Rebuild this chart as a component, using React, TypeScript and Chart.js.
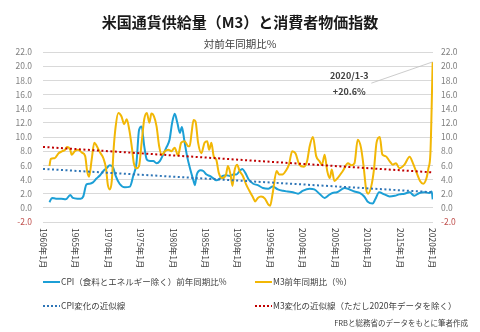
import React, { useEffect, useRef } from "react";
import { Chart, registerables } from "chart.js";

Chart.register(...registerables);

const FONT = '"Noto Sans CJK JP", "Noto Sans", sans-serif';

const TITLE = "米国通貨供給量（M3）と消費者物価指数";
const SUBTITLE = "対前年同期比%";
const SOURCE = "FRBと総務省のデータをもとに筆者作成";
const ANNOT_LINE1 = "2020/1-3";
const ANNOT_LINE2 = "+20.6%";

const cpiLabel = "CPI（食料とエネルギー除く）前年同期比%";
const m3Label = "M3前年同期比（%）";
const cpiTrendLabel = "CPI変化の近似線";
const m3TrendLabel = "M3変化の近似線（ただし2020年データを除く）";

const cpiYears = [
  1961.0, 1961.4, 1962.0, 1962.8, 1963.5, 1964.2, 1964.6, 1965.3, 1965.8, 1966.2,
  1966.7, 1967.2, 1967.7, 1968.2, 1968.8, 1969.3, 1969.8, 1970.3, 1970.8, 1971.2,
  1971.8, 1972.6, 1973.4, 1973.9, 1974.4, 1974.8, 1975.2, 1975.6, 1976.0, 1976.5,
  1977.0, 1977.5, 1978.0, 1978.5, 1979.0, 1979.5, 1979.9, 1980.3, 1980.7, 1981.1,
  1981.4, 1981.8, 1982.2, 1982.7, 1983.2, 1983.4, 1983.7, 1984.3, 1984.7, 1985.2,
  1985.7, 1986.2, 1986.7, 1987.2, 1987.7, 1988.3, 1988.8, 1989.3, 1989.8, 1990.3,
  1990.7, 1991.2, 1991.7, 1992.4, 1993.1, 1993.9, 1994.7, 1995.4, 1996.2, 1997.0,
  1997.7, 1998.5, 1999.3, 2000.0, 2001.1, 2001.8, 2002.6, 2003.4, 2003.9, 2004.6,
  2005.3, 2006.5, 2007.2, 2008.0, 2008.8, 2009.5, 2010.0, 2010.8, 2011.2, 2011.8,
  2012.6, 2013.4, 2014.2, 2014.9, 2015.7, 2016.5, 2017.2, 2018.0, 2018.8, 2019.5,
  2019.9, 2020.05,
];
const cpiValues = [
  0.8, 1.4, 1.3, 1.3, 1.2, 1.8, 1.4, 1.3, 1.3, 1.6,
  3.3, 3.4, 3.6, 4.1, 4.6, 5.2, 5.6, 6.0, 5.7, 4.5,
  3.4, 2.9, 3.0, 4.5, 6.3, 11.0, 11.5, 8.7, 6.8, 6.6,
  6.6, 6.3, 6.6, 7.5, 8.5, 9.6, 12.0, 13.3, 12.0, 10.6,
  11.4, 9.4, 7.3, 5.4, 3.8, 3.2, 4.7, 5.3, 5.2, 4.7,
  4.5, 4.2, 3.9, 4.1, 4.5, 4.6, 4.5, 4.7, 4.7, 5.2,
  5.5, 4.9, 4.0, 3.4, 3.2, 2.8, 2.7, 3.0, 2.6, 2.4,
  2.3, 2.2, 2.0, 2.4, 2.7, 2.6, 2.0, 1.4, 1.7, 2.1,
  2.2, 2.8, 2.6, 2.3, 2.1, 1.6, 0.9, 0.6, 1.2, 2.2,
  1.9, 1.6, 1.7, 1.9, 2.0, 2.2, 1.7, 2.1, 2.2, 2.1,
  2.3, 1.2,
];

const m3Years = [
  1961.0, 1961.2, 1961.8, 1962.4, 1963.0, 1963.4, 1963.7, 1964.2, 1964.4, 1964.9,
  1965.4, 1966.0, 1966.5, 1966.8, 1967.1, 1967.5, 1967.9, 1968.3, 1968.8, 1969.3,
  1969.7, 1970.0, 1970.3, 1970.6, 1970.9, 1971.2, 1971.6, 1972.1, 1972.5, 1972.9,
  1973.3, 1973.7, 1974.0, 1974.4, 1974.8, 1975.2, 1975.6, 1976.0, 1976.4, 1976.7,
  1977.1, 1977.5, 1977.9, 1978.3, 1978.8, 1979.3, 1979.8, 1980.3, 1980.8, 1981.3,
  1981.8, 1982.4, 1982.6, 1982.9, 1983.2, 1983.5, 1983.9, 1984.4, 1984.9, 1985.3,
  1985.6, 1985.95, 1986.3, 1986.7, 1987.1, 1987.6, 1988.2, 1988.5, 1988.9, 1989.2,
  1989.5, 1989.9, 1990.3, 1990.8, 1991.3, 1991.8, 1992.4, 1992.7, 1993.1, 1993.6,
  1994.2, 1994.7, 1995.0, 1995.4, 1996.0, 1996.4, 1996.9, 1997.4, 1997.9, 1998.4,
  1998.9, 1999.5, 2000.2, 2000.7, 2001.1, 2001.6, 2002.1, 2002.6, 2003.0, 2003.4,
  2003.8, 2004.2, 2004.5, 2004.9, 2005.4, 2006.2, 2007.0, 2007.5, 2008.0, 2008.5,
  2009.0, 2009.4, 2009.8, 2010.1, 2010.6, 2011.0, 2011.4, 2011.9, 2012.3, 2012.8,
  2013.4, 2013.9, 2014.4, 2014.9, 2015.7, 2016.5, 2017.0, 2017.6, 2018.1, 2018.6,
  2019.1, 2019.4, 2019.7, 2020.05,
];
const m3Values = [
  5.9, 6.9, 7.0, 7.7, 8.0, 8.2, 8.6, 8.2, 7.5, 8.0,
  8.2, 7.8, 7.3, 5.2, 4.4, 6.8, 9.2, 8.7, 7.8, 7.0,
  5.6, 3.2, 2.6, 3.8, 8.5, 11.5, 13.4, 12.9, 11.8, 12.5,
  11.0, 8.5, 6.3, 5.6, 5.9, 9.2, 12.5, 13.4, 12.0, 13.3,
  12.9, 11.5, 8.7, 7.5, 8.0, 8.2, 8.0, 8.5, 7.4, 9.2,
  9.4, 8.7, 8.7, 10.6, 12.4, 12.2, 9.2, 7.7, 9.2, 9.4,
  8.2, 9.2, 7.3, 6.8, 4.9, 4.2, 4.7, 5.9, 4.7, 3.1,
  5.2, 6.1, 5.2, 4.5, 3.3, 2.4, 1.4, 0.9, 1.4, 1.6,
  1.3, 0.5, 0.3, 2.1, 5.2, 4.7, 4.7, 5.2, 6.1, 8.0,
  7.7, 6.1, 5.8, 6.6, 8.7, 10.0, 7.3, 6.6, 6.1, 7.5,
  5.2, 4.2, 5.4, 3.8, 4.2, 5.2, 6.3, 6.0, 6.3, 9.6,
  8.5, 5.9, 2.6, 2.0, 3.1, 5.4, 9.2, 10.0, 7.5, 7.3,
  6.6, 6.1, 6.3, 5.6, 6.1, 7.2, 6.3, 4.9, 3.8, 3.4,
  4.2, 5.6, 7.7, 20.6,
];

const trendYears = [1960, 2020.1];
const cpiTrendValues = [5.5, 2.2];
const m3TrendValues = [8.6, 5.0];

const xTickYears = [1960, 1965, 1970, 1975, 1980, 1985, 1990, 1995, 2000, 2005, 2010, 2015, 2020];
const xMin = 1960;
const xMax = 2020.1;
const yMin = -2;
const yMax = 22;
const yStep = 2;

// annotation anchor (data coordinates)
const annotYear = 2007.2;
const annotLine1Value = 18.66;
const annotLine2Value = 16.45;
const leaderStart = [2010.6, 17.6];

const CPI_COLOR = "#1c9fd6";
const M3_COLOR = "#f2b705";
const CPI_TREND_COLOR = "#2e75b6";
const M3_TREND_COLOR = "#c00000";

const zip = (xs: number[], ys: number[]) => xs.map((x, i) => ({ x, y: ys[i] }));

const overlayPlugin = {
  id: "overlay",
  afterDraw(chart: any) {
    const ctx = chart.ctx as CanvasRenderingContext2D;
    const xs = chart.scales.x;
    const ys = chart.scales.y;
    const area = chart.chartArea;
    const W = chart.width;
    ctx.save();

    // title
    ctx.fillStyle = "#1a1a1a";
    ctx.font = `bold 15px ${FONT}`;
    ctx.textAlign = "center";
    ctx.textBaseline = "middle";
    ctx.fillText(TITLE, W / 2, 22);

    // subtitle
    ctx.fillStyle = "#404040";
    ctx.font = `10.5px ${FONT}`;
    ctx.fillText(SUBTITLE, W / 2, 44);

    // x tick labels rotated (read top to bottom)
    ctx.fillStyle = "#404040";
    ctx.font = `8.5px ${FONT}`;
    ctx.textAlign = "left";
    ctx.textBaseline = "middle";
    for (const yr of xTickYears) {
      const px = xs.getPixelForValue(yr);
      ctx.save();
      ctx.translate(px, area.bottom + 6);
      ctx.rotate(Math.PI / 2);
      ctx.fillText(`${yr}年1月`, 0, 0);
      ctx.restore();
    }

    // annotation
    const lastIdx = m3Years.length - 1;
    const peakX = xs.getPixelForValue(m3Years[lastIdx]);
    const peakY = ys.getPixelForValue(m3Values[lastIdx]);
    const lsX = xs.getPixelForValue(leaderStart[0]);
    const lsY = ys.getPixelForValue(leaderStart[1]);
    ctx.strokeStyle = "#bfbfbf";
    ctx.lineWidth = 0.8;
    ctx.beginPath();
    ctx.moveTo(lsX, lsY);
    ctx.lineTo(peakX, peakY);
    ctx.stroke();
    ctx.fillStyle = "#404040";
    ctx.font = `bold 9px ${FONT}`;
    ctx.textAlign = "center";
    ctx.fillText(ANNOT_LINE1, xs.getPixelForValue(annotYear), ys.getPixelForValue(annotLine1Value));
    ctx.fillText(ANNOT_LINE2, xs.getPixelForValue(annotYear), ys.getPixelForValue(annotLine2Value));

    // legend
    const items = [
      { label: cpiLabel, color: CPI_COLOR, dash: false, col: 0, row: 0 },
      { label: m3Label, color: M3_COLOR, dash: false, col: 1, row: 0 },
      { label: cpiTrendLabel, color: CPI_TREND_COLOR, dash: true, col: 0, row: 1 },
      { label: m3TrendLabel, color: M3_TREND_COLOR, dash: true, col: 1, row: 1 },
    ];
    const colX = [43, 255];
    const rowY = [282, 306];
    ctx.font = `8.5px ${FONT}`;
    ctx.textAlign = "left";
    ctx.textBaseline = "middle";
    for (const it of items) {
      const x0 = colX[it.col];
      const y0 = rowY[it.row];
      ctx.strokeStyle = it.color;
      ctx.lineWidth = 2;
      ctx.setLineDash(it.dash ? [2, 2] : []);
      ctx.beginPath();
      ctx.moveTo(x0, y0);
      ctx.lineTo(x0 + 17, y0);
      ctx.stroke();
      ctx.setLineDash([]);
      ctx.fillStyle = "#404040";
      ctx.fillText(it.label, x0 + 18, y0);
    }

    // source
    ctx.font = `7.5px ${FONT}`;
    ctx.textAlign = "right";
    ctx.fillStyle = "#404040";
    ctx.fillText(SOURCE, 468, 323);

    ctx.restore();
  },
};

export default function App() {
  const ref = useRef<HTMLCanvasElement | null>(null);

  useEffect(() => {
    document.body.style.margin = "0";
    document.body.style.background = "#ffffff";
    const canvas = ref.current;
    if (!canvas) return;

    const yTickCb = (v: any) => Number(v).toFixed(1);
    const yTickColor = (c: any) => (c.tick && c.tick.value < 0 ? "#c0504d" : "#808080");

    const chart = new Chart(canvas, {
      type: "line",
      data: {
        datasets: [
          {
            label: m3TrendLabel,
            data: zip(trendYears, m3TrendValues),
            borderColor: M3_TREND_COLOR,
            borderWidth: 2,
            borderDash: [2, 2.5],
            pointRadius: 0,
            yAxisID: "y",
          },
          {
            label: cpiTrendLabel,
            data: zip(trendYears, cpiTrendValues),
            borderColor: CPI_TREND_COLOR,
            borderWidth: 2,
            borderDash: [2, 2.5],
            pointRadius: 0,
            yAxisID: "y",
          },
          {
            label: m3Label,
            data: zip(m3Years, m3Values),
            borderColor: M3_COLOR,
            borderWidth: 2,
            pointRadius: 0,
            cubicInterpolationMode: "monotone",
            yAxisID: "y",
          },
          {
            label: cpiLabel,
            data: zip(cpiYears, cpiValues),
            borderColor: CPI_COLOR,
            borderWidth: 2,
            pointRadius: 0,
            cubicInterpolationMode: "monotone",
            yAxisID: "y",
          },
        ],
      },
      options: {
        responsive: false,
        animation: false,
        devicePixelRatio: 1,
        layout: { padding: { top: 52, left: 0, right: 0, bottom: 0 } },
        plugins: {
          legend: { display: false },
          title: { display: false },
          tooltip: { enabled: false },
        },
        scales: {
          x: {
            type: "linear",
            min: xMin,
            max: xMax,
            grid: { display: false },
            border: { display: false },
            ticks: { display: false },
            afterFit: (s: any) => {
              s.height = 110;
            },
          },
          y: {
            position: "left",
            min: yMin,
            max: yMax,
            grid: { color: "#d9d9d9", lineWidth: 1, drawTicks: false },
            border: { display: false },
            ticks: {
              stepSize: yStep,
              padding: 11,
              callback: yTickCb,
              color: yTickColor,
              font: { family: FONT, size: 8.5 },
            },
            afterFit: (s: any) => {
              s.width = 43;
            },
          },
          y2: {
            position: "right",
            min: yMin,
            max: yMax,
            grid: { display: false, drawTicks: false },
            border: { display: false },
            ticks: {
              stepSize: yStep,
              padding: 8,
              callback: yTickCb,
              color: yTickColor,
              font: { family: FONT, size: 8.5 },
            },
            afterFit: (s: any) => {
              s.width = 47;
            },
          },
        },
      },
      plugins: [overlayPlugin],
    });

    return () => chart.destroy();
  }, []);

  return (
    <div style={{ width: 480, height: 332, background: "#fff" }}>
      <canvas ref={ref} width={480} height={332} style={{ display: "block" }} />
    </div>
  );
}
